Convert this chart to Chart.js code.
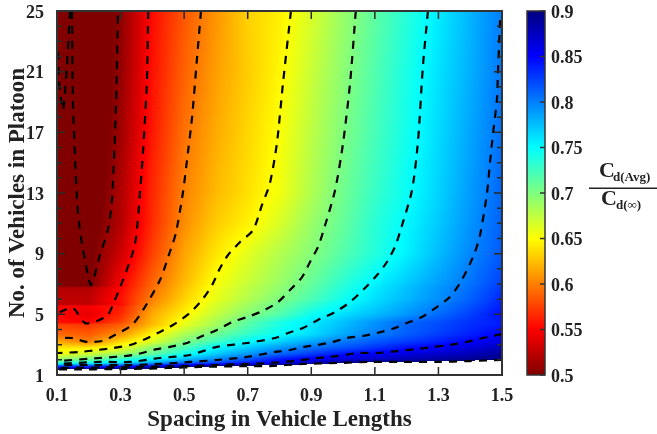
<!DOCTYPE html>
<html><head><meta charset="utf-8">
<style>html,body{margin:0;padding:0;background:#fff}canvas{display:block}</style>
<script src="https://cdn.jsdelivr.net/npm/chart.js@4"></script>
</head><body><canvas id="c" width="657" height="434"></canvas>
<script>
const spacing=[0.1,0.2,0.3,0.4,0.5,0.6,0.7,0.8,0.9,1.0,1.1,1.2,1.3,1.4,1.5];
const platoonRows=[1.36,1.55,1.8,2,2.4,2.8,3.2,3.7,4.35,4.45,5,5.55,5.65,6,6.75,6.85,7,9,11,13,17,21,25];
const ratio=[
[.90,.905,.91,.92,.93,.94,.95,.95,.95,.95,.95,.95,.95,.95,.95],
[.835,.84,.848,.865,.89,.905,.92,.93,.94,.95,.95,.95,.95,.95,.95],
[.735,.745,.76,.785,.81,.825,.84,.853,.875,.90,.905,.91,.915,.918,.92],
[.695,.71,.735,.757,.78,.80,.82,.845,.858,.868,.875,.882,.888,.894,.90],
[.655,.668,.687,.71,.742,.77,.79,.81,.826,.843,.853,.862,.87,.878,.888],
[.64,.642,.655,.695,.72,.751,.77,.79,.806,.817,.83,.845,.854,.865,.875],
[.615,.60,.635,.663,.70,.725,.75,.767,.785,.803,.815,.827,.838,.851,.862],
[.59,.585,.607,.648,.682,.707,.73,.748,.763,.783,.80,.813,.826,.838,.851],
[.575,.57,.585,.622,.657,.685,.715,.74,.759,.775,.793,.81,.82,.832,.84],
[.555,.552,.578,.622,.657,.685,.715,.74,.759,.775,.793,.81,.82,.832,.84],
[.552,.54,.565,.617,.645,.674,.697,.717,.745,.762,.776,.791,.808,.825,.845],
[.55,.548,.56,.608,.638,.666,.688,.708,.731,.752,.768,.784,.80,.818,.839],
[.525,.525,.553,.606,.637,.665,.687,.707,.73,.751,.767,.783,.799,.817,.838],
[.525,.525,.556,.60,.632,.659,.68,.70,.72,.744,.762,.778,.794,.812,.835],
[.52,.52,.55,.593,.626,.655,.675,.693,.713,.736,.757,.774,.791,.807,.829],
[.505,.50,.549,.591,.625,.654,.674,.692,.712,.735,.756,.773,.79,.806,.827],
[.50,.497,.548,.59,.623,.653,.672,.69,.71,.733,.754,.771,.788,.805,.825],
[.49,.495,.53,.575,.614,.64,.661,.68,.697,.717,.736,.755,.776,.797,.815],
[.485,.49,.52,.567,.605,.63,.645,.665,.69,.71,.734,.752,.771,.792,.812],
[.48,.485,.518,.565,.601,.623,.638,.655,.681,.706,.728,.747,.767,.789,.81],
[.49,.48,.512,.559,.594,.617,.634,.651,.676,.70,.722,.743,.764,.785,.806],
[.505,.48,.508,.556,.588,.612,.63,.647,.671,.695,.718,.74,.761,.781,.803],
[.505,.48,.505,.554,.584,.608,.632,.644,.665,.69,.713,.735,.757,.779,.801]
];
const contour050a=[[.147,25],[.150,19.13],[.163,12.54],[.172,10.56],[.185,8.91],[.207,6.93],[.235,8.91],[.26,10.56],[.273,12.54],[.286,19.13],[.292,25]];
const contour050b=[[.141,25],[.131,21.31],[.119,18.47],[.106,20.45],[.103,22.43]];
const contour055=[[.387,25],[.383,20.45],[.371,15.83],[.361,13],[.349,10.1],[.336,8.91],[.304,7.07],[.282,5.94],[.26,4.96],[.226,4.56],[.188,4.43],[.15,5.42],[.109,5.15],[.1,5.09]];
const contour060=[[.553,25],[.54,21.77],[.525,18.01],[.509,15.17],[.496,13],[.474,10.36],[.455,9.11],[.424,7.26],[.371,5.29],[.336,4.3],[.282,3.64],[.242,3.24],[.194,3.18],[.147,3.44],[.1,3.44]];
const contour065=[[.836,25],[.811,20.25],[.792,16.3],[.77,13.66],[.745,12.21],[.717,10.56],[.676,9.77],[.638,8.91],[.613,8.05],[.588,6.93],[.556,5.94],[.518,5.09],[.465,4.3],[.424,3.84],[.371,3.31],[.33,2.98],[.276,2.78],[.226,2.65],[.172,2.52],[.1,2.45]];
const contour070=[[1.04,25],[1.022,20.25],[1,16.3],[.975,13.2],[.937,10.43],[.921,9.44],[.896,8.45],[.871,7.46],[.833,6.6],[.792,5.75],[.739,5.15],[.698,4.82],[.651,4.49],[.603,3.97],[.55,3.51],[.509,3.11],[.455,2.85],[.415,2.71],[.339,2.32],[.235,2.12],[.1,1.92]];
const contour075=[[1.267,25],[1.251,21.31],[1.236,16.49],[1.217,13.2],[1.179,10.43],[1.163,9.44],[1.138,8.45],[1.107,7.59],[1.069,6.74],[1.022,5.81],[.975,5.15],[.921,4.63],[.874,4.1],[.827,3.77],[.786,3.44],[.698,3.11],[.603,2.85],[.518,2.32],[.424,2.12],[.33,1.86],[.235,1.86],[.1,1.73]];
const contour080=[[1.494,24.4],[1.487,20.78],[1.484,19.13],[1.472,16.95],[1.462,14.98],[1.453,13],[1.431,10.23],[1.415,9.11],[1.393,8.05],[1.368,7.07],[1.336,6.14],[1.295,5.48],[1.248,4.82],[1.201,4.43],[1.154,4.03],[1.107,3.77],[1.063,3.57],[1.012,3.44],[.968,3.18],[.918,2.98],[.874,2.85],[.833,2.65],[.786,2.52],[.698,2.19],[.603,1.99],[.518,1.86],[.424,1.73],[.33,1.66],[.235,1.66],[.1,1.66]];
const contour085=[[1.5,3.7],[1.44,3.44],[1.39,3.18],[1.336,2.98],[1.283,2.85],[1.233,2.71],[1.17,2.58],[1.107,2.45],[1.047,2.45],[.981,2.25],[.918,2.12],[.842,1.92],[.77,1.79],[.698,1.73],[.603,1.66],[.518,1.59],[.33,1.53],[.1,1.46]];
const contour090=[[1.5,1.99],[1.399,1.92],[1.295,1.86],[1.189,1.86],[1.085,1.86],[.981,1.79],[.874,1.73],[.77,1.59],[.698,1.59],[.55,1.53],[.446,1.46],[.339,1.4],[.1,1.36]];
const contours=[contour050a,contour050b,contour055,contour060,contour065,contour070,contour075,contour080,contour085,contour090];
const yLabelled=[1,5,9,13,17,21,25];

const INK='#222';
const SERIF='"Liberation Serif","Times New Roman",serif';
function cl(v){return Math.max(0,Math.min(1,v));}
function jetRev(z){
  const s=1-cl((z-0.5)/0.4);
  return 'rgb('+Math.round(255*cl(1.5-Math.abs(4*s-3)))+','+Math.round(255*cl(1.5-Math.abs(4*s-2)))+','+Math.round(255*cl(1.5-Math.abs(4*s-1)))+')';
}
function bracket(a,v){
  let i=0;while(i<a.length-2&&v>a[i+1])i++;
  return [i,(v-a[i])/(a[i+1]-a[i])];
}
const heatmap={id:'heatmap',beforeDatasetsDraw(ch){
  const {ctx,chartArea:A,scales:{x:X,y:Y}}=ch;
  ctx.save();
  for(let py=Math.floor(A.top);py<Math.ceil(A.bottom);py++){
    const yv=Y.getValueForPixel(py+.5);
    if(yv<platoonRows[0])continue;
    const [j,v]=bracket(platoonRows,yv);
    for(let px=Math.floor(A.left);px<Math.ceil(A.right);px++){
      const [i,u]=bracket(spacing,X.getValueForPixel(px+.5));
      const z=(1-v)*((1-u)*ratio[j][i]+u*ratio[j][i+1])+v*((1-u)*ratio[j+1][i]+u*ratio[j+1][i+1]);
      if(z>0.9)continue;
      ctx.fillStyle=jetRev(z);
      ctx.fillRect(px,py,1,1);
    }
  }
  ctx.restore();
},
afterDatasetsDraw(ch){
  const {ctx,chartArea:A,scales:{x:X,y:Y,cb:C}}=ch;
  ctx.save();
  ctx.strokeStyle='#2a2a2a';ctx.lineWidth=1.5;ctx.beginPath();
  X.ticks.forEach(t=>{const p=X.getPixelForValue(t.value);ctx.moveTo(p,A.bottom);ctx.lineTo(p,A.bottom-8);ctx.moveTo(p,A.top);ctx.lineTo(p,A.top+8);});
  Y.ticks.forEach(t=>{const p=Y.getPixelForValue(t.value);const l=yLabelled.includes(Math.round(t.value))?8:5;ctx.moveTo(A.left,p);ctx.lineTo(A.left+l,p);ctx.moveTo(A.right,p);ctx.lineTo(A.right-l,p);});
  ctx.stroke();
  ctx.lineWidth=2;ctx.strokeStyle='#333';ctx.strokeRect(A.left,A.top,A.right-A.left,A.bottom-A.top);
  // colour bar
  const bx=527,bw=18;
  const t=C.getPixelForValue(0.9),b=C.getPixelForValue(0.5);
  for(let py=Math.floor(t);py<b;py++){ctx.fillStyle=jetRev(C.getValueForPixel(py+.5));ctx.fillRect(bx,py,bw,1);}
  ctx.lineWidth=1.5;ctx.strokeStyle='#333';ctx.strokeRect(bx,t,bw,b-t);
  ctx.beginPath();
  C.ticks.forEach(k=>{const p=C.getPixelForValue(k.value);ctx.moveTo(bx+bw,p);ctx.lineTo(bx+bw-5,p);});
  ctx.stroke();
  // colour bar caption
  ctx.fillStyle=INK;ctx.textBaseline='alphabetic';ctx.textAlign='left';
  ctx.font='bold 22px '+SERIF;ctx.fillText('C',599,177);
  ctx.font='bold 13px '+SERIF;ctx.fillText('d(Avg)',613,181);
  ctx.font='bold 22px '+SERIF;ctx.fillText('C',601,205);
  ctx.font='bold 13px '+SERIF;ctx.fillText('d(∞)',616,209);
  ctx.fillRect(589,187.5,68,1.5);
  ctx.restore();
}};
const tickFont={family:SERIF,size:18,weight:'bold'};
const titleFont={family:SERIF,size:23,weight:'bold'};
const lineSets=contours.map((pts,k)=>({
  label:'contour '+k,type:'scatter',showLine:true,
  data:pts.map(p=>({x:p[0],y:p[1]})),
  borderColor:'#000',borderWidth:2.2,borderDash:[8,7],tension:0.25,pointRadius:0,fill:false
}));
const gridPoints=[];
platoonRows.forEach((y,j)=>spacing.forEach((x,i)=>gridPoints.push({x,y,v:ratio[j][i]})));
function noVPad(s){s.paddingTop=0;s.paddingBottom=0;}
new Chart(document.getElementById('c'),{
  type:'scatter',
  data:{datasets:[...lineSets,{label:'Cd ratio',data:gridPoints,pointRadius:0,showLine:false}]},
  options:{
    responsive:false,animation:false,devicePixelRatio:1,
    layout:{padding:{top:11,left:0,right:0,bottom:0}},
    plugins:{legend:{display:false},tooltip:{enabled:false}},
    scales:{
      x:{type:'linear',min:.1,max:1.5,position:'bottom',
        afterFit(s){s.height=59;s.paddingLeft=0;s.paddingRight=0;},
        grid:{display:false},border:{display:false},
        ticks:{stepSize:.2,padding:3,color:INK,font:tickFont,maxRotation:0,callback:v=>v.toFixed(1)},
        title:{display:true,text:'Spacing in Vehicle Lengths',color:INK,font:titleFont,padding:{top:0,bottom:0}}},
      y:{type:'linear',min:1,max:25,position:'left',
        afterFit(s){s.width=57;noVPad(s);},
        grid:{display:false},border:{display:false},
        ticks:{stepSize:1,padding:5,labelOffset:2,color:INK,font:tickFont,autoSkip:false,callback:v=>yLabelled.includes(v)?String(v):''},
        title:{display:true,text:'No. of Vehicles in Platoon',color:INK,font:titleFont,padding:{top:4,bottom:0}}},
      cb:{type:'linear',min:.5,max:.9,position:'right',
        afterFit(s){s.width=155;noVPad(s);},
        grid:{display:false},border:{display:false},
        ticks:{stepSize:.05,padding:41,labelOffset:2,color:INK,font:tickFont,callback:v=>String(+v.toFixed(2))}}
    }
  },
  plugins:[heatmap]
});
</script></body></html>
